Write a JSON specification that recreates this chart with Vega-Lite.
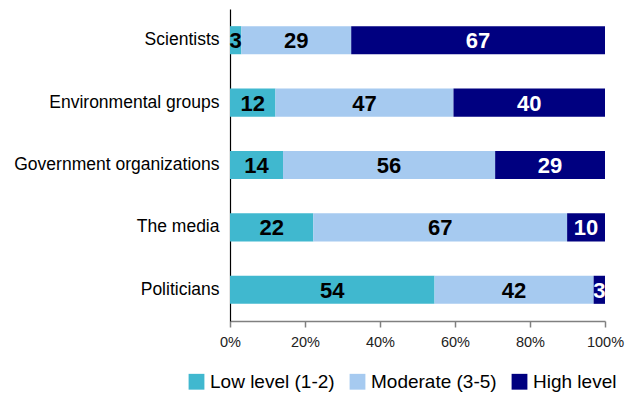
{
  "$schema": "https://vega.github.io/schema/vega-lite/v6.json",
  "width": 375,
  "height": 312,
  "autosize": {"type": "none"},
  "padding": {"left": 230, "top": 9, "right": 21, "bottom": 77},
  "config": {"view": {"stroke": null}, "font": "Liberation Sans"},
  "data": {"values": [
    {"group": "Scientists", "level": "Low level (1-2)", "o": 1, "value": 3},
    {"group": "Scientists", "level": "Moderate (3-5)", "o": 2, "value": 29},
    {"group": "Scientists", "level": "High level", "o": 3, "value": 67},
    {"group": "Environmental groups", "level": "Low level (1-2)", "o": 1, "value": 12},
    {"group": "Environmental groups", "level": "Moderate (3-5)", "o": 2, "value": 47},
    {"group": "Environmental groups", "level": "High level", "o": 3, "value": 40},
    {"group": "Government organizations", "level": "Low level (1-2)", "o": 1, "value": 14},
    {"group": "Government organizations", "level": "Moderate (3-5)", "o": 2, "value": 56},
    {"group": "Government organizations", "level": "High level", "o": 3, "value": 29},
    {"group": "The media", "level": "Low level (1-2)", "o": 1, "value": 22},
    {"group": "The media", "level": "Moderate (3-5)", "o": 2, "value": 67},
    {"group": "The media", "level": "High level", "o": 3, "value": 10},
    {"group": "Politicians", "level": "Low level (1-2)", "o": 1, "value": 54},
    {"group": "Politicians", "level": "Moderate (3-5)", "o": 2, "value": 42},
    {"group": "Politicians", "level": "High level", "o": 3, "value": 3}
  ]},
  "transform": [
    {"stack": "value", "groupby": ["group"], "sort": [{"field": "o", "order": "ascending"}], "offset": "normalize", "as": ["x0", "x1"]},
    {"calculate": "(datum.x0 + datum.x1) / 2", "as": "xm"}
  ],
  "encoding": {
    "y": {
      "field": "group", "type": "nominal",
      "sort": ["Scientists", "Environmental groups", "Government organizations", "The media", "Politicians"],
      "scale": {"paddingInner": 0.55, "paddingOuter": 0.275},
      "axis": {"title": null, "domainColor": "#000000", "domainWidth": 1.2, "ticks": false, "labelFontSize": 17.5, "labelColor": "#000000", "labelPadding": 11, "labelLimit": 300, "labelFont": "Liberation Sans"}
    }
  },
  "layer": [
    {
      "mark": {"type": "bar"},
      "encoding": {
        "x": {
          "field": "x0", "type": "quantitative",
          "scale": {"domain": [0, 1]},
          "axis": {"title": null, "format": "%", "values": [0, 0.2, 0.4, 0.6, 0.8, 1], "grid": false, "domainColor": "#808080", "domainWidth": 1.5, "tickColor": "#808080", "tickSize": 6, "tickWidth": 1.5, "labelFontSize": 14.5, "labelColor": "#222222", "labelPadding": 8, "labelFlush": false}
        },
        "x2": {"field": "x1"},
        "color": {
          "field": "level", "type": "nominal",
          "scale": {"domain": ["Low level (1-2)", "Moderate (3-5)", "High level"], "range": ["#40B8CF", "#A6CAF0", "#000080"]},
          "legend": {"title": null, "orient": "none", "direction": "horizontal", "legendX": -43, "legendY": 363, "labelFontSize": 19, "labelColor": "#000000", "symbolType": "square", "symbolSize": 250, "symbolStrokeWidth": 0, "symbolOpacity": 1, "columnPadding": 13, "labelOffset": 4, "labelLimit": 300}
        }
      }
    },
    {
      "mark": {"type": "text", "fontSize": 22, "fontWeight": "bold", "baseline": "middle", "align": "center", "dy": 1},
      "encoding": {
        "x": {"field": "xm", "type": "quantitative"},
        "text": {"field": "value", "type": "quantitative"},
        "color": {
          "condition": {"test": "datum.level === 'High level'", "value": "#ffffff"},
          "value": "#000000"
        }
      }
    }
  ]
}
